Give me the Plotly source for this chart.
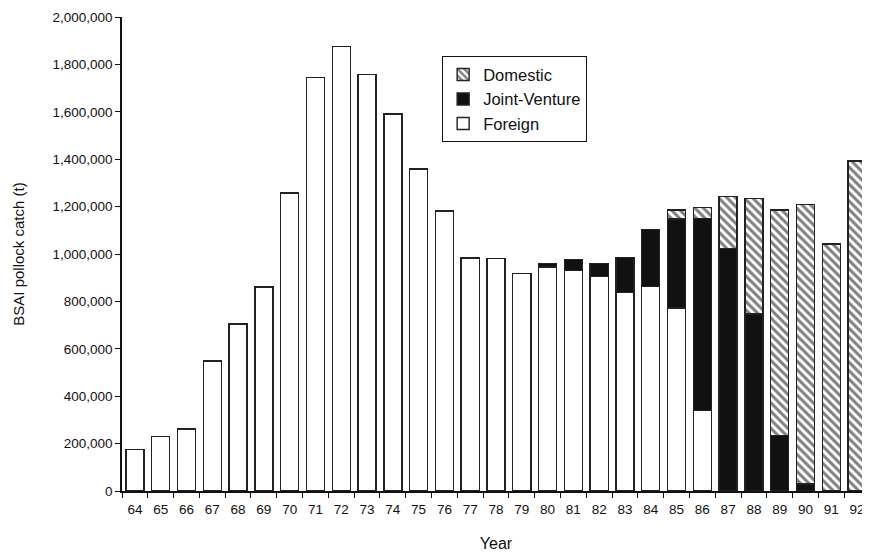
import plotly.graph_objects as go

years = ["64", "65", "66", "67", "68", "69", "70", "71", "72", "73", "74", "75", "76", "77",
         "78", "79", "80", "81", "82", "83", "84", "85", "86", "87", "88", "89", "90", "91", "92"]

foreign = [176000, 229000, 262000, 549000, 705000, 861000, 1257000, 1744000, 1875000, 1758000,
           1591000, 1359000, 1181000, 983000, 980000, 917000, 946000, 931000, 904000, 837000,
           864000, 772000, 339000, 0, 0, 0, 0, 0, 0]

joint_venture = [0, 0, 0, 0, 0, 0, 0, 0, 0, 0, 0, 0, 0, 0, 0, 0,
                 15000, 46000, 57000, 148000, 239000, 376000, 810000, 1024000, 747000, 233000, 30000, 0, 0]

domestic = [0, 0, 0, 0, 0, 0, 0, 0, 0, 0, 0, 0, 0, 0, 0, 0,
            0, 0, 0, 0, 0, 38000, 46000, 219000, 486000, 953000, 1180000, 1042000, 1392000]

y_ticks = [0, 200000, 400000, 600000, 800000, 1000000, 1200000, 1400000, 1600000, 1800000, 2000000]

FONT = "Liberation Sans, Arial, sans-serif"
OUTLINE = dict(color="#222222", width=1.4)

fig = go.Figure()
fig.add_trace(go.Bar(x=years, y=foreign, name="Foreign",
                     marker=dict(color="white", line=OUTLINE)))
fig.add_trace(go.Bar(x=years, y=joint_venture, name="Joint-Venture",
                     marker=dict(color="#111111", line=OUTLINE)))
fig.add_trace(go.Bar(x=years, y=domestic, name="Domestic",
                     marker=dict(color="white", line=OUTLINE,
                                 pattern=dict(shape="\\", fgcolor="#000000", bgcolor="white",
                                              size=6, solidity=0.5))))

# the page body adds an 8px offset; figure is sized to fit the 870x552 window
fig.update_layout(
    width=862, height=544,
    margin=dict(l=114, r=0, t=9, b=61),
    paper_bgcolor="white", plot_bgcolor="white",
    barmode="stack", bargap=0.3,
    font=dict(family=FONT, size=13.5, color="#111111"),
    showlegend=True,
    legend=dict(x=0.428, y=0.917, xanchor="left", yanchor="top",
                bgcolor="white", bordercolor="#111111", borderwidth=1,
                traceorder="reversed", font=dict(size=16.5),
                itemwidth=30, tracegroupgap=0),
    xaxis=dict(type="category", range=[-0.5, 28.5], automargin=False,
               showline=True, linecolor="#111111", linewidth=1.5,
               ticks="outside", tickson="boundaries", ticklen=5, tickcolor="#111111",
               ticklabelstandoff=5,
               showgrid=False, zeroline=False,
               title=dict(text="Year", font=dict(size=16), standoff=28)),
    yaxis=dict(range=[0, 2000000], tickvals=y_ticks, tickformat=",d", automargin=False,
               showline=True, linecolor="#111111", linewidth=1.5,
               ticks="outside", ticklen=5, tickcolor="#111111",
               showgrid=False, zeroline=False,
               title=dict(text="BSAI pollock catch (t)", font=dict(size=15), standoff=24)),
)

fig.write_html("out.html")
